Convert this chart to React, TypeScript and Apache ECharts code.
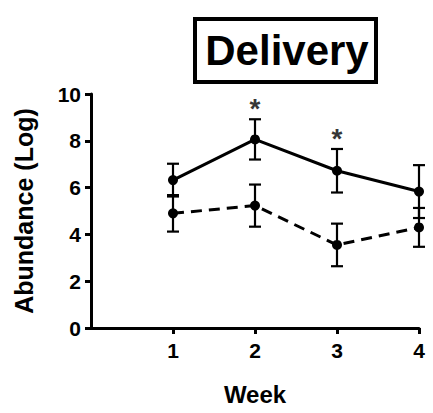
import React, { useEffect, useRef } from "react";
import * as echarts from "echarts";

const weeks = [1, 2, 3, 4];
const solidMean = [6.32, 8.06, 6.72, 5.83];
const solidErr = [0.7, 0.86, 0.93, 1.13];
const dashedMean = [4.9, 5.23, 3.55, 4.3];
const dashedErr = [0.78, 0.9, 0.91, 0.83];
const sigWeeks = [2, 3];
const sigY = [9.67, 8.4];
const yTicks = [0, 2, 4, 6, 8, 10];
const xTicks = [1, 2, 3, 4];

const FONT = "'Liberation Sans', Arial, sans-serif";

function errorSeries(mean: number[], err: number[]) {
  const data = weeks.map((w, i) => [w, mean[i] - err[i], mean[i] + err[i]]);
  return {
    type: "custom",
    silent: true,
    data,
    z: 5,
    renderItem: (params: any, api: any) => {
      const x = api.value(0);
      const lo = api.coord([x, api.value(1)]);
      const hi = api.coord([x, api.value(2)]);
      const hw = 6;
      const style = { stroke: "#000", lineWidth: 2.2 };
      return {
        type: "group",
        children: [
          { type: "line", shape: { x1: lo[0], y1: lo[1], x2: hi[0], y2: hi[1] }, style },
          { type: "line", shape: { x1: lo[0] - hw, y1: lo[1], x2: lo[0] + hw, y2: lo[1] }, style },
          { type: "line", shape: { x1: hi[0] - hw, y1: hi[1], x2: hi[0] + hw, y2: hi[1] }, style },
        ],
      };
    },
  };
}

export default function App() {
  const ref = useRef<HTMLDivElement>(null);
  useEffect(() => {
    if (!ref.current) return;
    const chart = echarts.init(ref.current, null, { renderer: "svg" });
    chart.setOption({
      animation: false,
      backgroundColor: "#fff",
      textStyle: { fontFamily: FONT },
      grid: { left: 91, right: 14, top: 94, bottom: 85, containLabel: false, outerBoundsMode: "none" },
      graphic: [
        {
          type: "rect",
          shape: { x: 195, y: 19, width: 181, height: 63 },
          style: { fill: "#fff", stroke: "#000", lineWidth: 4 },
        },
        {
          type: "text",
          x: 287,
          y: 50,
          style: {
            text: "Delivery",
            font: `bold 42px ${FONT}`,
            fill: "#000",
            align: "center",
            verticalAlign: "middle",
          },
        },
      ],
      xAxis: {
        type: "value",
        min: 0,
        max: 4,
        interval: 1,
        name: "Week",
        nameLocation: "middle",
        nameGap: 54,
        nameTextStyle: { fontSize: 24, fontWeight: "bold", color: "#000", fontFamily: FONT },
        axisLine: { lineStyle: { color: "#000", width: 3 } },
        axisTick: { customValues: xTicks, length: 6, lineStyle: { color: "#000", width: 3 } },
        axisLabel: {
          customValues: xTicks,
          margin: 12,
          fontSize: 21,
          fontWeight: "bold",
          color: "#000",
          fontFamily: FONT,
        },
        splitLine: { show: false },
      },
      yAxis: {
        type: "value",
        min: 0,
        max: 10,
        interval: 2,
        name: "Abundance (Log)",
        nameLocation: "middle",
        nameGap: 55,
        nameTextStyle: { fontSize: 25, fontWeight: "bold", color: "#000", fontFamily: FONT },
        axisLine: { show: true, lineStyle: { color: "#000", width: 3 } },
        axisTick: { show: true, length: 6, lineStyle: { color: "#000", width: 3 } },
        axisLabel: {
          customValues: yTicks,
          margin: 10,
          fontSize: 21,
          fontWeight: "bold",
          color: "#000",
          fontFamily: FONT,
        },
        splitLine: { show: false },
      },
      series: [
        errorSeries(solidMean, solidErr),
        errorSeries(dashedMean, dashedErr),
        {
          type: "line",
          data: weeks.map((w, i) => [w, solidMean[i]]),
          symbol: "circle",
          symbolSize: 10,
          itemStyle: { color: "#000" },
          lineStyle: { color: "#000", width: 3 },
          z: 6,
        },
        {
          type: "line",
          data: weeks.map((w, i) => [w, dashedMean[i]]),
          symbol: "circle",
          symbolSize: 10,
          itemStyle: { color: "#000" },
          lineStyle: { color: "#000", width: 3, type: [11, 7] },
          z: 6,
        },
        {
          type: "scatter",
          data: sigWeeks.map((w, i) => [w, sigY[i]]),
          symbolSize: 0,
          silent: true,
          label: {
            show: true,
            position: "inside",
            formatter: "*",
            fontSize: 28,
            fontWeight: "bold",
            color: "#000",
            fontFamily: FONT,
            offset: [0, 7],
          },
        },
      ],
    });
    return () => chart.dispose();
  }, []);
  return (
    <div
      ref={ref}
      style={{ position: "absolute", left: 0, top: 0, width: 433, height: 413 }}
    />
  );
}
